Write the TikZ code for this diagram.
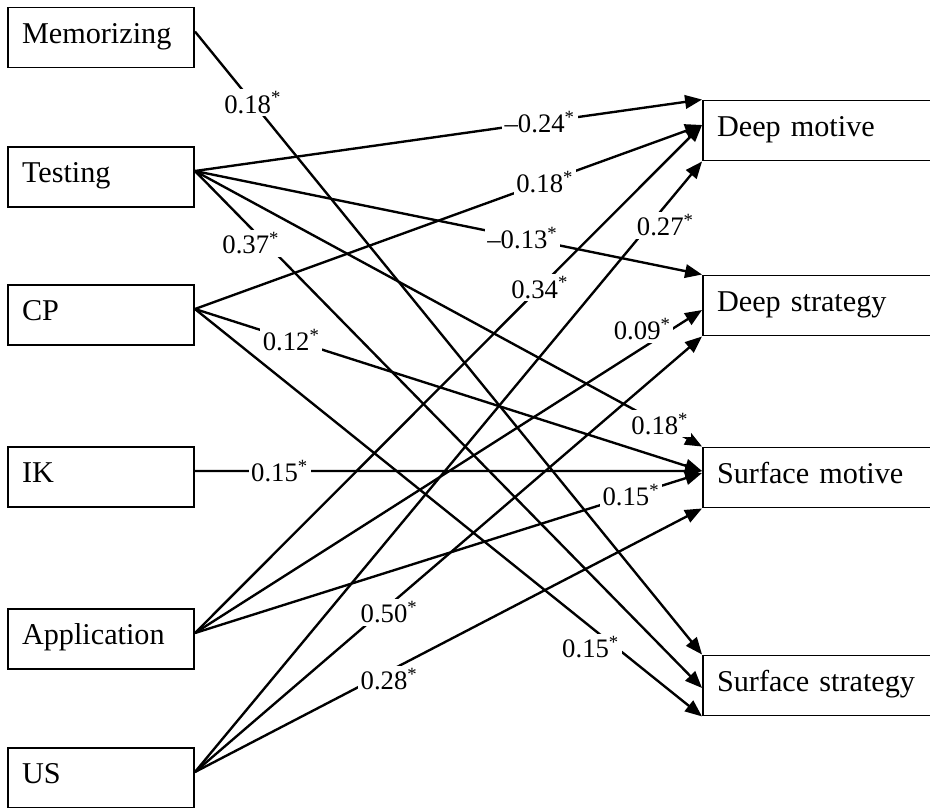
\documentclass[tikz,border=0pt]{standalone}
\usepackage{fontspec}
\setmainfont{Liberation Serif}
\usetikzlibrary{arrows.meta}

\begin{document}
\begin{tikzpicture}[x=0.02cm, y=-0.02cm]

% Define styles
\tikzstyle{factor} = [rectangle, draw=black, line width=1.1pt, minimum width=3.72cm, minimum height=1.2cm, text width=3.16cm, inner xsep=0.28cm, align=left, text height=1.45ex, text depth=0pt, font=\fontsize{17.2}{20}\selectfont]
\tikzstyle{outcome} = [factor, minimum width=4.58cm, text width=4.02cm]
\tikzstyle{effect} = [line width=1.35pt, -{Triangle[length=0.34cm, width=0.27cm]}]
\tikzstyle{coef} = [fill=white, inner sep=1.5pt, font=\fontsize{15.2}{17}\selectfont]

\useasboundingbox (0,0) rectangle (930,808);

% Predictors on the left
\node [factor] (mem) at (101,37.5) {Memorizing};
\node [factor] (test) at (101,177) {Testing};
\node [factor] (cp) at (101,315) {CP};
\node [factor] (ik) at (101,477) {IK};
\node [factor] (app) at (101,639) {Application};
\node [factor] (us) at (101,778) {US};

% Outcomes on the right
\node [outcome] (dmot) at (817.5,130.5) {Deep motive};
\node [outcome] (dstr) at (817.5,305.5) {Deep strategy};
\node [outcome] (smot) at (817.5,477.5) {Surface motive};
\node [outcome] (sstr) at (817.5,685.5) {Surface strategy};

% Paths from Memorizing and Testing
\draw [effect] ([yshift=0.12cm]mem.east) -- (sstr.north west) node [coef, pos=0.114] {0.18\textsuperscript{*}};
\draw [effect] ([yshift=0.12cm]test.east) -- (dmot.north west) node [coef, pos=0.68] {--0.24\textsuperscript{*}};
\draw [effect] ([yshift=0.12cm]test.east) -- (dstr.north west) node [coef, pos=0.646] {--0.13\textsuperscript{*}};
\draw [effect] ([yshift=0.12cm]test.east) -- (smot.north west) node [coef, pos=0.917] {0.18\textsuperscript{*}};
\draw [effect] ([yshift=0.12cm]test.east) -- ([yshift=-0.05cm]sstr.west) node [coef, pos=0.14, xshift=-0.3cm] {0.37\textsuperscript{*}};

% Paths from CP and IK
\draw [effect] ([yshift=0.12cm]cp.east) -- ([yshift=0.11cm]dmot.west) node [coef, pos=0.69] {0.18\textsuperscript{*}};
\draw [effect] ([yshift=0.12cm]cp.east) -- ([yshift=0.13cm]smot.west) node [coef, pos=0.19] {0.12\textsuperscript{*}};
\draw [effect] ([yshift=0.12cm]cp.east) -- (sstr.south west) node [coef, pos=0.81, xshift=-0.3cm, yshift=-0.16cm] {0.15\textsuperscript{*}};
\draw [effect] ([yshift=0.12cm]ik.east) -- ([yshift=0.13cm]smot.west) node [coef, pos=0.167] {0.15\textsuperscript{*}};

% Paths from Application and US
\draw [effect] ([yshift=0.12cm]app.east) -- ([yshift=0.11cm]dmot.west) node [coef, pos=0.68] {0.34\textsuperscript{*}};
\draw [effect] ([yshift=0.12cm]app.east) -- ([yshift=-0.09cm]dstr.west) node [coef, pos=0.9, xshift=-0.18cm, yshift=0.26cm] {0.09\textsuperscript{*}};
\draw [effect] ([yshift=0.12cm]app.east) -- ([yshift=0.09cm]smot.west) node [coef, pos=0.86] {0.15\textsuperscript{*}};
\draw [effect] ([yshift=0.12cm]us.east) -- (dmot.south west) node [coef, pos=0.91, xshift=0.18cm, yshift=-0.18cm] {0.27\textsuperscript{*}};
\draw [effect] ([yshift=0.12cm]us.east) -- (dstr.south west) node [coef, pos=0.383, yshift=-0.14cm] {0.50\textsuperscript{*}};
\draw [effect] ([yshift=0.12cm]us.east) -- (smot.south west) node [coef, pos=0.383, yshift=-0.16cm] {0.28\textsuperscript{*}};

\end{tikzpicture}
\end{document}
